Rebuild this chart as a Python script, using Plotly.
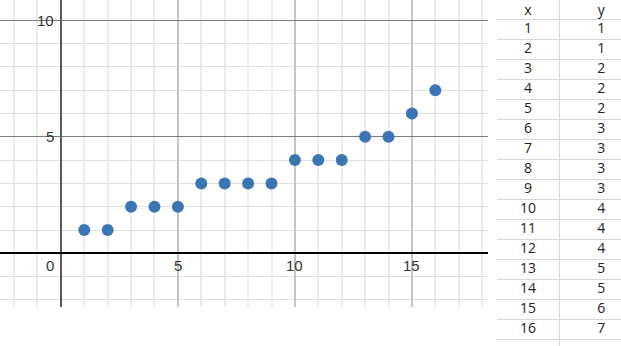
import plotly.graph_objects as go

# Data
x_vals = [1, 2, 3, 4, 5, 6, 7, 8, 9, 10, 11, 12, 13, 14, 15, 16]
y_vals = [1, 1, 2, 2, 2, 3, 3, 3, 3, 4, 4, 4, 5, 5, 6, 7]
x_tick_labels = [5, 10, 15]
y_tick_labels = [5, 10]
table_headers = ["x", "y"]

W, H = 621, 346
plot_right = 488
plot_bottom = 306.7
tab_left = 497

fig = go.Figure()

fig.add_trace(go.Scatter(
    x=x_vals, y=y_vals, mode="markers",
    marker=dict(size=12, color="#3b75b3", line=dict(width=0)),
    xaxis="x", yaxis="y", showlegend=False, hoverinfo="skip",
))

# table rendered as text on a second set of axes
rows = list(range(1, len(x_vals) + 1))
col_x_center = 0.5
col_y_center = 1.68
tab_font = dict(family="Open Sans", size=14, color="#222222")
fig.add_trace(go.Scatter(
    x=[col_x_center] * (len(x_vals) + 1),
    y=[0.1] + rows,
    text=[table_headers[0]] + [str(v) for v in x_vals],
    mode="text", textfont=tab_font, cliponaxis=False,
    xaxis="x2", yaxis="y2", showlegend=False, hoverinfo="skip",
))
fig.add_trace(go.Scatter(
    x=[col_y_center] * (len(y_vals) + 1),
    y=[0.1] + rows,
    text=[table_headers[1]] + [str(v) for v in y_vals],
    mode="text", textfont=tab_font, cliponaxis=False,
    xaxis="x2", yaxis="y2", showlegend=False, hoverinfo="skip",
))

annotations = []
lab_font = dict(family="Liberation Sans", size=15, color="#333333")
for v in x_tick_labels:
    annotations.append(dict(x=v, y=0, xref="x", yref="y", text=str(v), showarrow=False,
                            xanchor="center", yanchor="middle", yshift=-12, font=lab_font))
for v in y_tick_labels:
    annotations.append(dict(x=0, y=v, xref="x", yref="y", text=str(v), showarrow=False,
                            xanchor="right", yanchor="middle", xshift=-5, font=lab_font))
annotations.append(dict(x=0, y=0, xref="x", yref="y", text="0", showarrow=False,
                        xanchor="right", yanchor="middle", xshift=-5, yshift=-12, font=lab_font))

row_lines = [r + 0.5 for r in range(0, len(x_vals) + 1)]

fig.update_layout(
    width=W, height=H,
    margin=dict(l=0, r=0, t=0, b=0),
    paper_bgcolor="white", plot_bgcolor="white",
    annotations=annotations,
    xaxis=dict(
        domain=[0, plot_right / W], range=[-2.6, 18.25],
        tick0=0, dtick=5, showgrid=True, gridcolor="#c4c4c4", gridwidth=2,
        minor=dict(tick0=0, dtick=1, showgrid=True, gridcolor="#ececec", gridwidth=2),
        zeroline=True, zerolinecolor="#5a5a5a", zerolinewidth=2,
        showticklabels=False, ticks="", showline=False, fixedrange=True,
    ),
    yaxis=dict(
        domain=[(H - plot_bottom) / H, 1], range=[-2.29, 10.87],
        tick0=0, dtick=5, showgrid=True, gridcolor="#7a7a7a", gridwidth=1,
        minor=dict(tick0=0, dtick=1, showgrid=True, gridcolor="#e0e0e0", gridwidth=1),
        zeroline=True, zerolinecolor="#000000", zerolinewidth=2,
        showticklabels=False, ticks="", showline=False, fixedrange=True,
    ),
    xaxis2=dict(
        domain=[tab_left / W, 1], range=[0, 2], anchor="y2",
        tickvals=[1], showgrid=True, gridcolor="#d6d6d6", gridwidth=1,
        zeroline=False, showticklabels=False, ticks="", showline=False,
    ),
    yaxis2=dict(
        domain=[0, 1], range=[16.85, -0.45], anchor="x2",
        tickvals=row_lines, showgrid=True, gridcolor="#d6d6d6", gridwidth=1,
        zeroline=False, showticklabels=False, ticks="", showline=False,
    ),
)

fig.write_html("out.html")
